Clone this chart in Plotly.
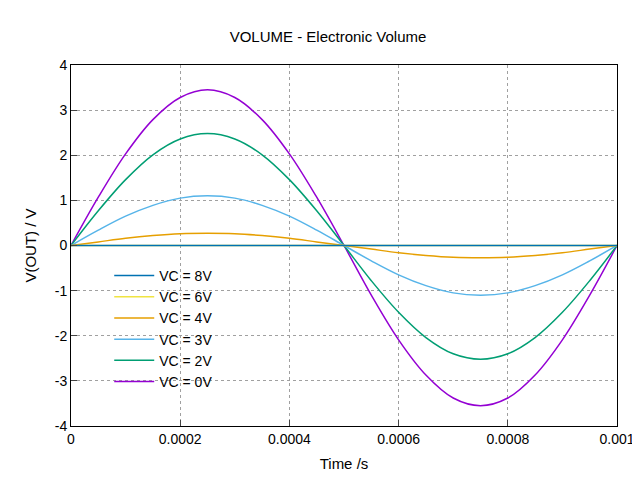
import plotly.graph_objects as go

t = [i * 0.00005 for i in range(21)]

labels = ["VC = 8V", "VC = 6V", "VC = 4V", "VC = 3V", "VC = 2V", "VC = 0V"]
colors = ["#0072b2", "#f0e442", "#e69f00", "#56b4e9", "#009e73", "#9400d3"]

v_8 = [0] * 21
v_6 = [0] * 21
v_4 = [0, .08, .16, .22, .26, .27, .26, .22, .16, .08, 0,
       -.08, -.16, -.22, -.26, -.27, -.26, -.22, -.16, -.08, 0]
v_3 = [0, .34, .65, .89, 1.05, 1.1, 1.05, .89, .65, .34, 0,
       -.34, -.65, -.89, -1.05, -1.1, -1.05, -.89, -.65, -.34, 0]
v_2 = [0, .77, 1.46, 2.01, 2.36, 2.48, 2.36, 2.01, 1.46, .77, 0,
       -.78, -1.48, -2.04, -2.40, -2.52, -2.40, -2.04, -1.48, -.78, 0]
v_0 = [0, 1.07, 2.03, 2.79, 3.28, 3.45, 3.28, 2.79, 2.03, 1.07, 0,
       -1.10, -2.09, -2.87, -3.38, -3.55, -3.38, -2.87, -2.09, -1.10, 0]

series = [v_8, v_6, v_4, v_3, v_2, v_0]
y_ticks = [-4, -3, -2, -1, 0, 1, 2, 3, 4]

fig = go.Figure()
# draw in reverse so the 8V line ends up on top, keep legend order via legendrank
for rank in reversed(range(len(labels))):
    fig.add_trace(go.Scatter(x=t, y=series[rank], name=labels[rank], mode="lines",
                             legendrank=rank + 1,
                             line=dict(color=colors[rank], width=1.5, shape="spline")))

axis = dict(showgrid=True, gridcolor="#a0a0a0", griddash="3px,3px", gridwidth=1,
            showline=True, linecolor="black", mirror=True, ticks="inside",
            ticklen=6, zeroline=False, automargin=False, tickfont=dict(size=14))

fig.update_layout(
    width=640, height=480,
    margin=dict(l=63, r=31, t=57, b=62),
    paper_bgcolor="white", plot_bgcolor="white",
    font=dict(family="Liberation Sans, Arial", size=14, color="black"),
    title=dict(text="VOLUME - Electronic Volume", x=0.5, y=0.94,
               xanchor="center", yanchor="middle", font=dict(size=15)),
    xaxis=dict(axis, range=[0, 0.001], tickvals=[0, 0.0002, 0.0004, 0.0006, 0.0008, 0.001],
               ticktext=["0", "0.0002", "0.0004", "0.0006", "0.0008", "0.001"],
               title=dict(text="Time /s", standoff=12, font=dict(size=15))),
    yaxis=dict(axis, range=[-4, 4], tickvals=y_ticks, ticktext=[str(v) for v in y_ticks],
               title=dict(text="V(OUT) / V", standoff=14, font=dict(size=15))),
    legend=dict(x=0.07, y=0.46, xanchor="left", yanchor="top",
                bgcolor="rgba(0,0,0,0)", tracegroupgap=0, itemwidth=40,
                font=dict(size=14)),
)

fig.write_html("out.html")
